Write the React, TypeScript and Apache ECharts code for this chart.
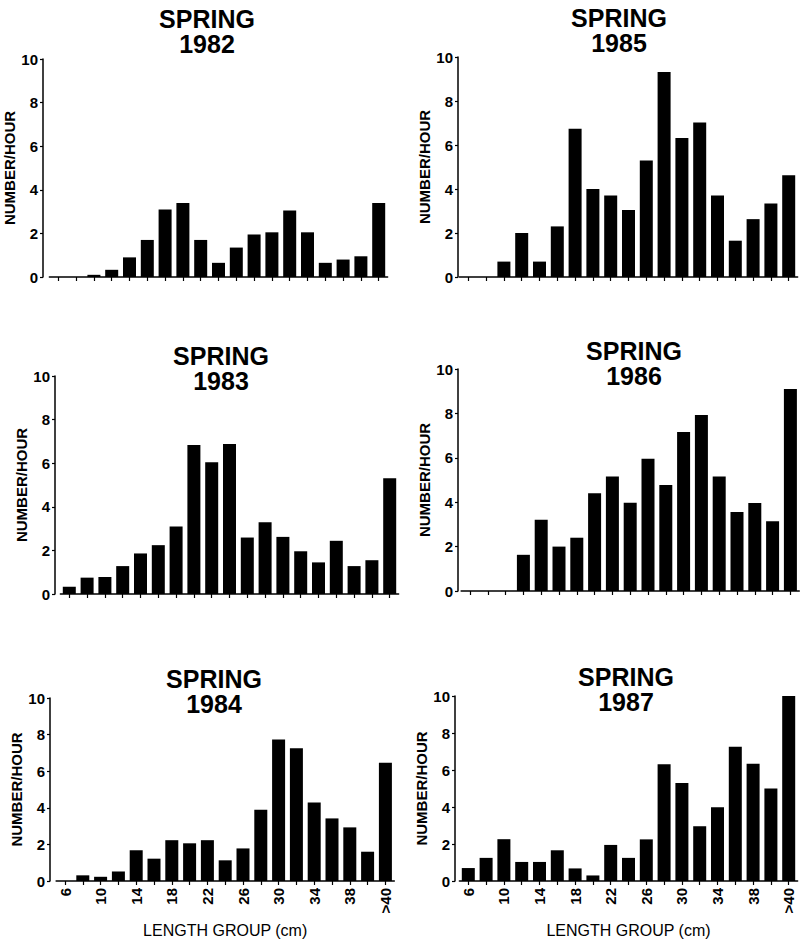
import React, { useEffect, useRef } from "react";
import * as echarts from "echarts";

// ---- data ----
const lengthGroups = ["6", "8", "10", "12", "14", "16", "18", "20", "22", "24", "26", "28", "30", "32", "34", "36", "38", "40", ">40"];
const yTicks = [0, 2, 4, 6, 8, 10];
const spring1982 = [0, 0, 0.1, 0.33, 0.9, 1.7, 3.1, 3.4, 1.7, 0.65, 1.35, 1.95, 2.05, 3.05, 2.05, 0.65, 0.8, 0.95, 3.4];
const spring1983 = [0.33, 0.75, 0.78, 1.28, 1.86, 2.24, 3.1, 6.83, 6.04, 6.88, 2.59, 3.29, 2.62, 1.96, 1.45, 2.44, 1.28, 1.55, 5.31];
const spring1984 = [0, 0.31, 0.23, 0.52, 1.68, 1.22, 2.23, 2.06, 2.23, 1.13, 1.78, 3.89, 7.73, 7.26, 4.29, 3.42, 2.93, 1.6, 6.46];
const spring1985 = [0, 0, 0.7, 2.0, 0.7, 2.3, 6.74, 4.0, 3.7, 3.04, 5.3, 9.32, 6.32, 7.02, 3.71, 1.65, 2.63, 3.34, 4.63];
const spring1986 = [0, 0, 0, 1.63, 3.21, 2.0, 2.4, 4.4, 5.16, 3.97, 5.96, 4.77, 7.16, 7.93, 5.16, 3.56, 3.96, 3.14, 9.1];
const spring1987 = [0.7, 1.25, 2.26, 1.03, 1.03, 1.66, 0.68, 0.3, 1.95, 1.25, 2.25, 6.31, 5.3, 2.96, 3.99, 7.26, 6.34, 5.0, 10];
const seasonLabel = "SPRING";
const years = ["1982", "1985", "1983", "1986", "1984", "1987"];
const seriesValues = [spring1982, spring1985, spring1983, spring1986, spring1984, spring1987];
const yAxisName = "NUMBER/HOUR";
const xAxisName = "LENGTH GROUP (cm)";

// ---- layout (pixels) ----
const CAT_W = 17.8;
const layout = [
  { axisX: 43, firstCenter: 58.3, y10: 59, y0: 277, titleX: 207, titleY: 31, bottom: false },
  { axisX: 458, firstCenter: 468.3, y10: 57, y0: 277, titleX: 619, titleY: 30, bottom: false },
  { axisX: 55, firstCenter: 69.3, y10: 376, y0: 594, titleX: 221, titleY: 368, bottom: false },
  { axisX: 458, firstCenter: 470, y10: 369, y0: 591, titleX: 634, titleY: 363, bottom: false },
  { axisX: 50, firstCenter: 65, y10: 698, y0: 889, titleX: 214, titleY: 691, bottom: true },
  { axisX: 455, firstCenter: 468.3, y10: 696, y0: 887, titleX: 626, titleY: 689, bottom: true },
];

const FONT = "'Liberation Sans', Arial, Helvetica, sans-serif";

export default function App() {
  const ref = useRef<HTMLDivElement>(null);
  useEffect(() => {
    document.body.style.margin = "0";
    if (!ref.current) return;
    const chart = echarts.init(ref.current, undefined, { renderer: "svg" });

    const grids: any[] = [];
    const xAxes: any[] = [];
    const yAxes: any[] = [];
    const series: any[] = [];
    const graphics: any[] = [];

    layout.forEach((L, i) => {
      const left = L.firstCenter - CAT_W / 2;
      grids.push({
        left,
        top: L.y10,
        width: CAT_W * lengthGroups.length,
        height: L.y0 - L.y10,
        containLabel: false,
      });
      xAxes.push({
        type: "category",
        gridIndex: i,
        data: lengthGroups,
        boundaryGap: true,
        axisLine: { show: true, lineStyle: { color: "#000", width: 1.5 } },
        axisTick: { show: true, alignWithLabel: true, interval: 0, length: 4, lineStyle: { color: "#000", width: 1.2 } },
        axisLabel: {
          show: L.bottom,
          interval: 1,
          rotate: 90,
          margin: 7,
          color: "#000",
          fontFamily: FONT,
          fontWeight: "bold",
          fontSize: 15,
        },
        name: L.bottom ? xAxisName : "",
        nameLocation: "middle",
        nameGap: 41,
        nameTextStyle: { color: "#000", fontFamily: FONT, fontSize: 16 },
        splitLine: { show: false },
      });
      yAxes.push({
        type: "value",
        gridIndex: i,
        min: yTicks[0],
        max: yTicks[yTicks.length - 1],
        interval: 2,
        offset: left - L.axisX,
        axisLine: { show: true, lineStyle: { color: "#000", width: 1.5 } },
        axisTick: { show: true, length: 3, lineStyle: { color: "#000", width: 1.2 } },
        axisLabel: { color: "#000", fontFamily: FONT, fontWeight: "bold", fontSize: 15, margin: 5 },
        splitLine: { show: false },
        name: yAxisName,
        nameLocation: "middle",
        nameRotate: 90,
        nameGap: 26,
        nameTextStyle: { color: "#000", fontFamily: FONT, fontWeight: "bold", fontSize: 15 },
      });
      series.push({
        type: "bar",
        xAxisIndex: i,
        yAxisIndex: i,
        data: seriesValues[i],
        barWidth: 13,
        itemStyle: { color: "#000" },
        silent: true,
      });
      graphics.push({
        type: "text",
        x: L.titleX,
        y: L.titleY,
        style: {
          text: `${seasonLabel}\n${years[i]}`,
          align: "center",
          verticalAlign: "middle",
          textAlign: "center",
          textVerticalAlign: "middle",
          lineHeight: 25,
          fill: "#000",
          font: `bold 25px ${FONT}`,
        },
      });
    });

    chart.setOption({
      animation: false,
      backgroundColor: "#fff",
      grid: grids,
      xAxis: xAxes,
      yAxis: yAxes,
      series,
      graphic: graphics,
    });
    return () => chart.dispose();
  }, []);
  return <div ref={ref} style={{ width: 800, height: 939 }} />;
}
